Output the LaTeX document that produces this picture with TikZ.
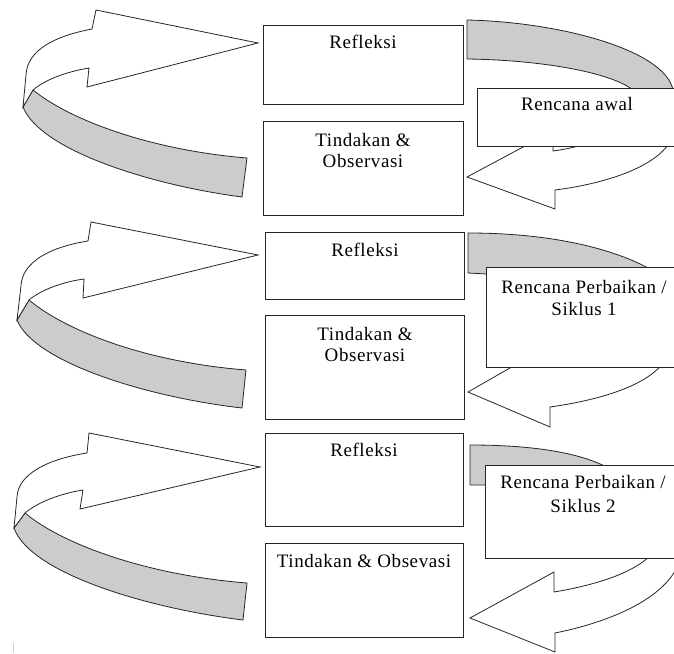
\documentclass[tikz,border=0pt]{standalone}
\usepackage{fontspec}
\setmainfont{Liberation Serif}[LetterSpace=3]
\begin{document}
\begin{tikzpicture}[x=1pt,y=-1pt,
  band/.style={draw=black!85, line width=0.8pt, fill=black!20, line join=round},
  arr/.style={draw=black!85, line width=0.8pt, fill=white, line join=miter},
  box/.style={draw=black!85, line width=1pt, fill=white, inner sep=0pt, anchor=north west},
  lbl/.style={anchor=base, inner sep=0pt, font=\fontsize{19}{21}\selectfont}]
\useasboundingbox (0,0) rectangle (674,653);
\begin{scope}
\clip (0,0) rectangle (674,653);

% ---------- section 1 : left twisted arrow ----------
\path[band] (33,90) .. controls (70,120) and (150,150) .. (247,158)
  -- (242,197) .. controls (150,185) and (40,150) .. (23,107) -- cycle;
\path[arr] (33,90) .. controls (45,80) and (65,72) .. (89,68) -- (87,87) -- (258,43)
  -- (96,10) -- (92,29) .. controls (55,36) and (27,50) .. (26,75) -- (23,107) -- cycle;

% ---------- section 1 : right band + arrow ----------
\path[band] (467,20) .. controls (560,22) and (665,50) .. (673,90)
  -- (633,90) .. controls (610,72) and (540,60) .. (467,59) -- cycle;
\path[arr] (553,131) -- (467,177) -- (555,209) -- (555,190)
  .. controls (610,183) and (660,165) .. (672,138) -- (620,125)
  .. controls (600,142) and (575,148) .. (553,151) -- cycle;

% ---------- section 2 : left twisted arrow ----------
\path[band] (29,300) .. controls (66,331) and (146,362) .. (246,370)
  -- (242,408) .. controls (146,397) and (34,362) .. (17,320) -- cycle;
\path[arr] (29,300) .. controls (41,290) and (62,282) .. (84,279) -- (83,298) -- (258,255)
  -- (91,222) -- (88,241) .. controls (50,247) and (22,262) .. (21,286) -- (17,320) -- cycle;

% ---------- section 2 : right band + arrow ----------
\path[band] (468,233) .. controls (560,233) and (625,252) .. (660,275)
  -- (600,280) -- (468,273) -- cycle;
\path[arr] (550,345) -- (468,392) -- (550,427) -- (550,407)
  .. controls (600,400) and (650,385) .. (665,360) -- (620,340)
  .. controls (600,345) and (580,345) .. (560,345) -- cycle;

% ---------- section 3 : left twisted arrow ----------
\path[band] (25,513) .. controls (62,544) and (146,575) .. (247,583)
  -- (243,620) .. controls (146,608) and (30,573) .. (14,528) -- cycle;
\path[arr] (25,513) .. controls (37,503) and (58,494) .. (83,490) -- (80,509) -- (260,467)
  -- (89,433) -- (87,453) .. controls (48,459) and (18,474) .. (17,497) -- (14,528) -- cycle;

% ---------- section 3 : right band + arrow ----------
\path[band] (470,445) .. controls (530,445) and (585,452) .. (615,472)
  -- (560,485) -- (470,485) -- cycle;
\path[arr] (554,572) -- (470,618) -- (555,652) -- (555,633)
  .. controls (610,622) and (668,598) .. (680,560) -- (660,540)
  -- (650,556) .. controls (630,575) and (590,586) .. (554,592) -- cycle;

% ---------- boxes ----------
\node[box, minimum width=200pt, minimum height=79pt]  (r1)  at (263,25)  {};
\node[box, minimum width=200pt, minimum height=94pt]  (t1)  at (263,121) {};
\node[box, minimum width=200pt, minimum height=58pt]  (ra)  at (477,88)  {};
\node[box, minimum width=199pt, minimum height=67pt]  (r2)  at (265,232) {};
\node[box, minimum width=199pt, minimum height=104pt] (t2)  at (265,315) {};
\node[box, minimum width=195pt, minimum height=100pt] (rp1) at (486,267) {};
\node[box, minimum width=198pt, minimum height=93pt]  (r3)  at (265,433) {};
\node[box, minimum width=198pt, minimum height=94pt]  (t3)  at (265,543) {};
\node[box, minimum width=195pt, minimum height=93pt]  (rp2) at (485,465) {};

% ---------- texts ----------
\node[lbl] (r1txt)  at (363,48)  {Refleksi};
\node[lbl] (t1txta) at (363,146) {Tindakan \&};
\node[lbl] (t1txtb) at (363,167) {Observasi};
\node[lbl] (ratxt)  at (577,110) {Rencana awal};
\node[lbl] (r2txt)  at (365,256) {Refleksi};
\node[lbl] (t2txta) at (365,340) {Tindakan \&};
\node[lbl] (t2txtb) at (365,361) {Observasi};
\node[lbl] (rp1a)   at (584,293) {Rencana Perbaikan /};
\node[lbl] (rp1b)   at (584,315) {Siklus 1};
\node[lbl] (r3txt)  at (364,456) {Refleksi};
\node[lbl] (t3txt)  at (364,567) {Tindakan \& Obsevasi};
\node[lbl] (rp2a)   at (583,488) {Rencana Perbaikan /};
\node[lbl] (rp2b)   at (583,512) {Siklus 2};

% small mark bottom left
\draw[black!20, line width=1pt] (13,643) -- (13,653);
\end{scope}
\end{tikzpicture}
\end{document}
